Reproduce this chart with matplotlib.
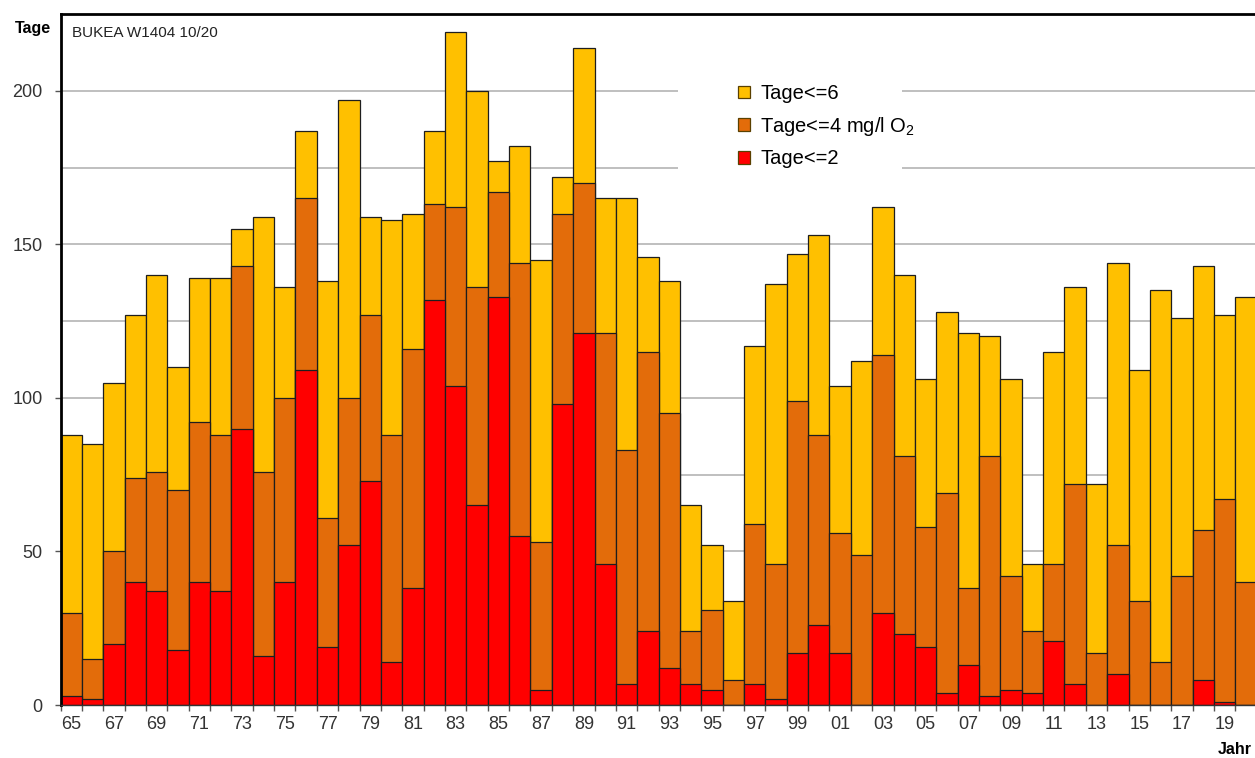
import matplotlib
matplotlib.use("Agg")
import matplotlib.pyplot as plt
from matplotlib.patches import Patch, Rectangle
from matplotlib.ticker import MultipleLocator, FixedLocator

plt.rcParams['font.family'] = ['Liberation Sans', 'DejaVu Sans']
plt.rcParams['mathtext.default'] = 'regular'

years = list(range(1965, 2021))
tage6 = [88, 85, 105, 127, 140, 110, 139, 139, 155, 159,
         136, 187, 138, 197, 159, 158, 160, 187, 219, 200,
         177, 182, 145, 172, 214, 165, 165, 146, 138, 65,
         52, 34, 117, 137, 147, 153, 104, 112, 162, 140,
         106, 128, 121, 120, 106, 46, 115, 136, 72, 144,
         109, 135, 126, 143, 127, 133]
tage4 = [30, 15, 50, 74, 76, 70, 92, 88, 143, 76,
         100, 165, 61, 100, 127, 88, 116, 163, 162, 136,
         167, 144, 53, 160, 170, 121, 83, 115, 95, 24,
         31, 8, 59, 46, 99, 88, 56, 49, 114, 81,
         58, 69, 38, 81, 42, 24, 46, 72, 17, 52,
         34, 14, 42, 57, 67, 40]
tage2 = [3, 2, 20, 40, 37, 18, 40, 37, 90, 16,
         40, 109, 19, 52, 73, 14, 38, 132, 104, 65,
         133, 55, 5, 98, 121, 46, 7, 24, 12, 7,
         5, 0, 7, 2, 17, 26, 17, 0, 30, 23,
         19, 4, 13, 3, 5, 4, 21, 7, 0, 10,
         0, 0, 0, 8, 1, 0]
labels = ['Tage<=6', 'Tage<=4 mg/l O$_2$', 'Tage<=2']
colors = ['#FFC000', '#E36C0A', '#FF0000']

fig = plt.figure(figsize=(12.55, 7.58), dpi=100)
ax = fig.add_axes([60.5 / 1255, 1 - 705 / 758, 1 - 60.5 / 1255, (705 - 14) / 758])

ax.set_axisbelow(True)
ax.yaxis.set_major_locator(MultipleLocator(50))
ax.yaxis.set_minor_locator(MultipleLocator(25))
ax.grid(axis='y', which='both', color='#b4b4b4', linewidth=1.2, zorder=0)

for vals, col in zip([tage6, tage4, tage2], colors):
    ax.bar(years, vals, width=1.0, color=col, edgecolor='#1e1e1e',
           linewidth=0.9, zorder=2)

ax.set_xlim(1964.5, 2020.42)
ax.set_ylim(0, 225)

# white cut-out behind legend (gridlines interrupted)
ax.add_patch(Rectangle((1993.4, 170), 10.48, 45, facecolor='white',
                       edgecolor='none', zorder=1))

odd_years = [y for y in years if y % 2 == 1]
ax.xaxis.set_major_locator(FixedLocator(odd_years))
ax.set_xticklabels([f"{y % 100:02d}" for y in odd_years])
ax.xaxis.set_minor_locator(FixedLocator([y + 0.5 for y in years[:-1]] + [1964.5]))
ax.tick_params(axis='x', which='major', length=0, pad=8, labelsize=13,
               labelcolor='#333333')
ax.tick_params(axis='x', which='minor', length=4, width=1, color='#555555')
ax.tick_params(axis='y', which='major', length=4, width=1, pad=9,
               labelsize=13, labelcolor='#333333', color='#555555')
ax.tick_params(axis='y', which='minor', length=0)

ax.spines['right'].set_visible(False)
ax.spines['top'].set_linewidth(2)
ax.spines['left'].set_linewidth(2)
ax.spines['bottom'].set_linewidth(1)
ax.spines['bottom'].set_color('#333333')

handles = [Patch(facecolor=c, edgecolor='#5a4000', linewidth=0.9) for c in colors]
ax.legend(handles, labels, loc='upper left',
          bbox_to_anchor=((738 - 60.5) / 1194.5, (705 - 84) / 691),
          frameon=False, fontsize=14.5, handlelength=0.6,
          handleheight=0.6, handletextpad=0.5, labelspacing=0.58,
          borderpad=0, borderaxespad=0)

ax.text(0.0096, 0.973, 'BUKEA W1404 10/20', transform=ax.transAxes,
        fontsize=11, ha='left', va='center', color='#222222')
fig.text(15 / 1255, 1 - 28 / 758, 'Tage', fontsize=11.5, fontweight='bold',
         ha='left', va='center')
fig.text(1252 / 1255, 1 - 750 / 758, 'Jahr', fontsize=11.5, fontweight='bold',
         ha='right', va='center')

fig.savefig('out.png', dpi=100)
